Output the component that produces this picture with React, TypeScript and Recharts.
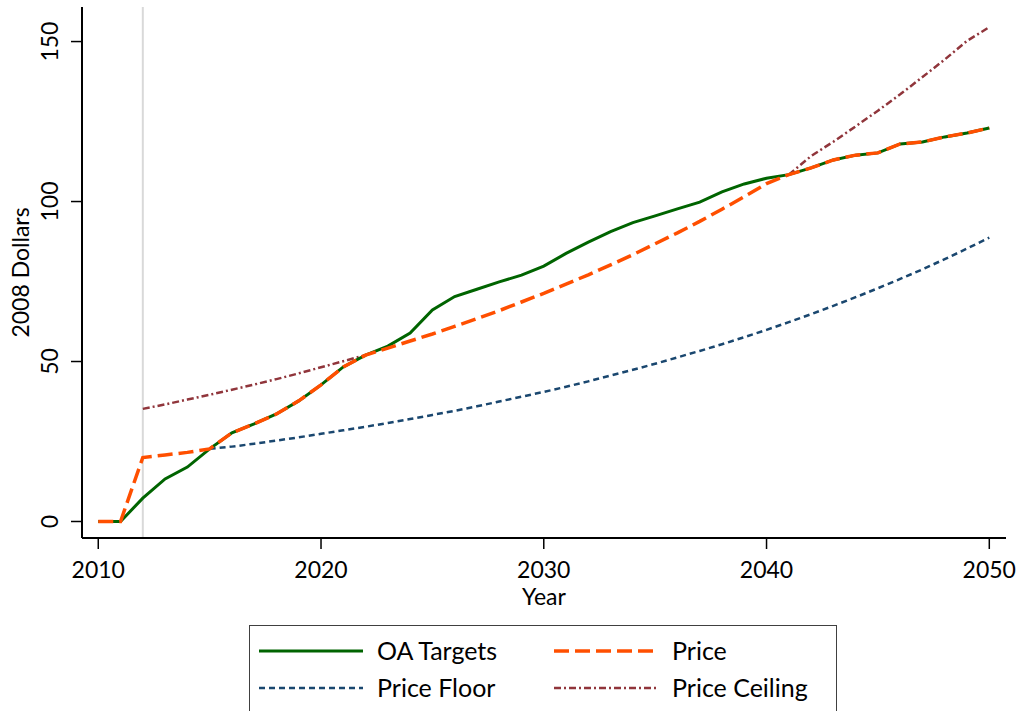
import React from 'react'
import { LineChart, Line, XAxis, YAxis, ReferenceLine, Label } from 'recharts'

const FONT = 'Lato, "Open Sans", sans-serif'

// one row per year, 2010..2050
const years = [
  2010, 2011, 2012, 2013, 2014, 2015, 2016, 2017, 2018, 2019,
  2020, 2021, 2022, 2023, 2024, 2025, 2026, 2027, 2028, 2029,
  2030, 2031, 2032, 2033, 2034, 2035, 2036, 2037, 2038, 2039,
  2040, 2041, 2042, 2043, 2044, 2045, 2046, 2047, 2048, 2049, 2050,
]

const oaTargets = [
  0, 0, 7.3, 13.3, 17.0, 22.7, 27.7, 30.5, 33.6, 37.7,
  42.7, 48.3, 52.0, 54.8, 58.9, 66.1, 70.3, 72.6, 74.9, 77.0,
  79.8, 83.8, 87.3, 90.6, 93.4, 95.5, 97.7, 99.8, 103.0, 105.5,
  107.3, 108.4, 110.5, 113.0, 114.5, 115.2, 118.0, 118.6, 120.2, 121.4, 123.0,
]

const price = [
  0, 0, 20.0, 20.8, 21.6, 22.7, 27.7, 30.5, 33.6, 37.7,
  42.7, 48.3, 52.0, 54.2, 56.4, 58.6, 61.0, 63.4, 65.9, 68.6,
  71.3, 74.2, 77.1, 80.2, 83.4, 86.8, 90.2, 93.8, 97.6, 101.5,
  105.6, 108.4, 110.5, 113.0, 114.5, 115.2, 118.0, 118.6, 120.2, 121.4, 123.0,
]

// floor only shows once the price leaves it
const priceFloor = [
  null, null, null, null, null, 22.7, 23.4, 24.3, 25.3, 26.3,
  27.4, 28.5, 29.6, 30.8, 32.0, 33.3, 34.6, 36.0, 37.5, 39.0,
  40.5, 42.1, 43.8, 45.6, 47.4, 49.3, 51.3, 53.3, 55.4, 57.6,
  59.9, 62.3, 64.8, 67.4, 70.1, 72.9, 75.8, 78.8, 82.0, 85.3, 88.7,
]

// ceiling is hidden where the price sits on it (2023-2040)
const priceCeiling = [
  null, null, 35.2, 36.6, 38.1, 39.6, 41.2, 42.8, 44.5, 46.3,
  48.2, 50.1, 52.0, null, null, null, null, null, null, null,
  null, null, null, null, null, null, null, null, null, null,
  null, 108.4, 114.2, 118.7, 123.5, 128.4, 133.5, 138.9, 144.4, 150.2, 154.5,
]

const xTicks = [2010, 2020, 2030, 2040, 2050]
const yTicks = [0, 50, 100, 150]
const policyStart = 2012

const xDomain = [2009.27, 2050.75]
const yDomain = [-5.16, 160.8]

const data = years.map((year, i) => ({
  year,
  target: oaTargets[i],
  price: price[i],
  floor: priceFloor[i],
  ceiling: priceCeiling[i],
}))

const series = [
  { key: 'floor', name: 'Price Floor', color: '#1a476f', width: 2.5, dash: '6 4' },
  { key: 'ceiling', name: 'Price Ceiling', color: '#90353b', width: 2.5, dash: '7 3 2 3' },
  { key: 'target', name: 'OA Targets', color: '#006400', width: 3, dash: undefined },
  { key: 'price', name: 'Price', color: '#ff4f00', width: 3.5, dash: '15 6' },
]

const YTick = ({ x, y, payload }: any) => (
  <text
    x={x}
    y={y}
    transform={`rotate(-90 ${x} ${y})`}
    textAnchor="middle"
    fontSize={23}
    fontFamily={FONT}
    fill="#000"
  >
    {payload.value}
  </text>
)

const XTick = ({ x, y, payload }: any) => (
  <text x={x} y={y} dy="0.71em" textAnchor="middle" fontSize={23} fontFamily={FONT} fill="#000">
    {payload.value}
  </text>
)

const legendItems = [
  { key: 'target', col: 0, row: 0 },
  { key: 'price', col: 1, row: 0 },
  { key: 'floor', col: 0, row: 1 },
  { key: 'ceiling', col: 1, row: 1 },
]

const ChartLegend = () => (
  <div
    style={{
      position: 'absolute',
      left: 249,
      top: 625,
      width: 586,
      height: 100,
      border: '1px solid #404040',
      background: '#fff',
      fontFamily: FONT,
      fontSize: 25,
    }}
  >
    {legendItems.map((item) => {
      const s = series.find((d) => d.key === item.key)!
      const left = item.col === 0 ? 9 : 304
      const top = item.row === 0 ? 25 : 62
      return (
        <div key={item.key}>
          <svg
            width={104}
            height={10}
            style={{ position: 'absolute', left, top: top - 5 }}
          >
            <line
              x1={0}
              x2={104}
              y1={5}
              y2={5}
              stroke={s.color}
              strokeWidth={s.width}
              strokeDasharray={s.dash}
            />
          </svg>
          <span
            style={{
              position: 'absolute',
              left: left + 118,
              top: top - 16,
              lineHeight: '30px',
              color: '#000',
              whiteSpace: 'nowrap',
            }}
          >
            {s.name}
          </span>
        </div>
      )
    })}
  </div>
)

export default function App() {
  return (
    <div
      style={{
        position: 'absolute',
        left: 0,
        top: 0,
        width: 1022,
        height: 711,
        overflow: 'hidden',
        background: '#fff',
      }}
    >
      <LineChart
        width={1022}
        height={711}
        data={data}
        margin={{ top: 7, right: 16, bottom: 113, left: 0 }}
      >
        <XAxis
          dataKey="year"
          type="number"
          domain={xDomain}
          ticks={xTicks}
          allowDataOverflow
          height={60}
          tickSize={11}
          tickMargin={13}
          tick={<XTick />}
          tickLine={{ stroke: '#000', strokeWidth: 1.5 }}
          axisLine={{ stroke: '#000', strokeWidth: 2 }}
        >
          <Label
            content={({ viewBox }: any) => (
              <text
                x={viewBox.x + viewBox.width / 2}
                y={viewBox.y + 67}
                textAnchor="middle"
                fontSize={23}
                fontFamily={FONT}
                fill="#000"
              >
                Year
              </text>
            )}
          />
        </XAxis>
        <XAxis
          xAxisId="top"
          orientation="top"
          dataKey="year"
          type="number"
          domain={xDomain}
          allowDataOverflow
          height={0}
          tick={false}
          tickLine={false}
          axisLine={{ stroke: '#222', strokeWidth: 1.5 }}
        />
        <YAxis
          type="number"
          domain={yDomain}
          ticks={yTicks}
          allowDataOverflow
          width={82}
          tickSize={11}
          tickMargin={13}
          tick={<YTick />}
          tickLine={{ stroke: '#000', strokeWidth: 1.5 }}
          axisLine={{ stroke: '#000', strokeWidth: 2 }}
        >
          <Label
            content={({ viewBox }: any) => {
              const x = viewBox.x + 29
              const y = viewBox.y + viewBox.height / 2
              return (
                <text
                  x={x}
                  y={y}
                  transform={`rotate(-90 ${x} ${y})`}
                  textAnchor="middle"
                  fontSize={23}
                  fontFamily={FONT}
                  fill="#000"
                >
                  2008 Dollars
                </text>
              )
            }}
          />
        </YAxis>
        <YAxis
          yAxisId="right"
          orientation="right"
          type="number"
          domain={yDomain}
          allowDataOverflow
          width={0}
          tick={false}
          tickLine={false}
          axisLine={{ stroke: '#222', strokeWidth: 1.5 }}
        />
        <ReferenceLine x={policyStart} stroke="#d9d9d9" strokeWidth={2} />
        {series.map((s) => (
          <Line
            key={s.key}
            type="linear"
            dataKey={s.key}
            name={s.name}
            stroke={s.color}
            strokeWidth={s.width}
            strokeDasharray={s.dash}
            dot={false}
            activeDot={false}
            connectNulls={false}
            isAnimationActive={false}
          />
        ))}
      </LineChart>
      <ChartLegend />
    </div>
  )
}
